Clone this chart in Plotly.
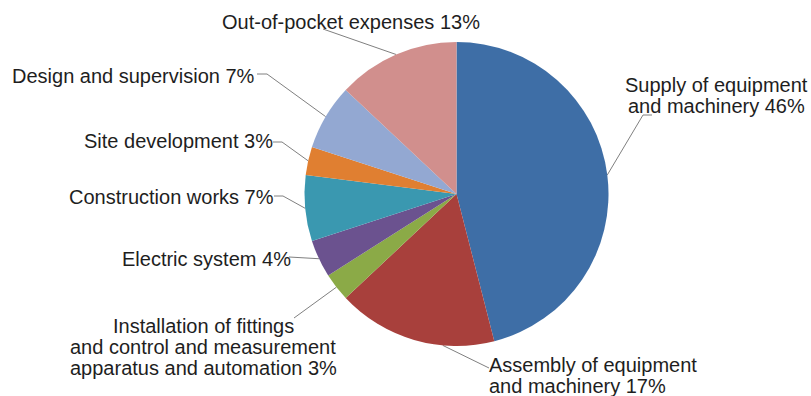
import math
import plotly.graph_objects as go

# Cost structure shares (%), clockwise from 12 o'clock
categories = [
    "Supply of equipment and machinery",
    "Assembly of equipment and machinery",
    "Installation of fittings and control and measurement apparatus and automation",
    "Electric system",
    "Construction works",
    "Site development",
    "Design and supervision",
    "Out-of-pocket expenses",
]
shares = [46, 17, 3, 4, 7, 3, 7, 13]
colors = ["#3E6EA6", "#A8403C", "#8BAA47", "#6B528F",
          "#3A98B0", "#E07F31", "#93A8D2", "#D18F8D"]

# Label text lines per slice
label_lines = [
    ["Supply of equipment", "and machinery 46%"],
    ["Assembly of equipment", "and machinery 17%"],
    ["Installation of fittings", "and control and measurement",
     "apparatus and automation 3%"],
    ["Electric system 4%"],
    ["Construction works 7%"],
    ["Site development 3%"],
    ["Design and supervision 7%"],
    ["Out-of-pocket expenses 13%"],
]

W, H = 811, 396
CX, CY, R = 456.5, 194, 152   # pie centre and radius in pixels

# Label layout: anchor x, first line centre y, horizontal alignment,
# where along the slice the leader attaches (0..1), leader elbow points
label_layout = [
    dict(x=716, y=85, anchor="center", frac=0.5, path=[(643, 115), (652, 115)]),
    dict(x=489, y=365, anchor="left", frac=0.32, path=[(489, 368)]),
    dict(x=203, y=325.5, anchor="center", frac=0.5, path=[(294, 318)]),
    dict(x=291, y=259, anchor="right", frac=0.5, path=[(289, 257)]),
    dict(x=274, y=196.5, anchor="right", frac=0.5, path=[(283, 196), (274, 196)]),
    dict(x=273, y=140.5, anchor="right", frac=0.5, path=[(282, 142), (273, 142)]),
    dict(x=255, y=75.5, anchor="right", frac=0.5, path=[(267, 74), (257, 74)]),
    dict(x=222, y=22, anchor="left", frac=0.5, path=[(323, 29)]),
]
LINE_PITCH = 21.3

fig = go.Figure()

fig.add_trace(go.Pie(
    labels=categories,
    values=shares,
    sort=False,
    direction="clockwise",
    rotation=0,
    marker=dict(colors=colors, line=dict(width=0)),
    textinfo="none",
    hoverinfo="label+percent",
    showlegend=False,
    domain=dict(x=[(CX - R) / W, (CX + R) / W],
                y=[(H - CY - R) / H, (H - CY + R) / H]),
))

# Leader lines: from slice edge (angle derived from the shares) to label
total = sum(shares)
cum = 0
annotations = []
for val, lines, lay in zip(shares, label_lines, label_layout):
    ang = 360 * (cum + lay["frac"] * val) / total
    cum += val
    px = CX + R * math.sin(math.radians(ang))
    py = CY - R * math.cos(math.radians(ang))
    xs = [px] + [p[0] for p in lay["path"]]
    ys = [py] + [p[1] for p in lay["path"]]
    fig.add_trace(go.Scatter(
        x=xs, y=ys, mode="lines",
        line=dict(color="#808080", width=1),
        hoverinfo="skip", showlegend=False,
    ))
    for i, line in enumerate(lines):
        annotations.append(dict(
            x=lay["x"], y=lay["y"] + i * LINE_PITCH,
            xref="x", yref="y", text=line, showarrow=False,
            xanchor=lay["anchor"], yanchor="middle",
            font=dict(family="Liberation Sans, Arial, sans-serif",
                      size=20, color="#1e1e1e"),
            borderpad=0, borderwidth=0,
        ))

fig.update_layout(
    width=W, height=H,
    margin=dict(l=0, r=0, t=0, b=0),
    paper_bgcolor="white", plot_bgcolor="rgba(0,0,0,0)",
    xaxis=dict(range=[0, W], visible=False, fixedrange=True),
    yaxis=dict(range=[H, 0], visible=False, fixedrange=True),
    annotations=annotations,
)

fig.write_html("out.html")
